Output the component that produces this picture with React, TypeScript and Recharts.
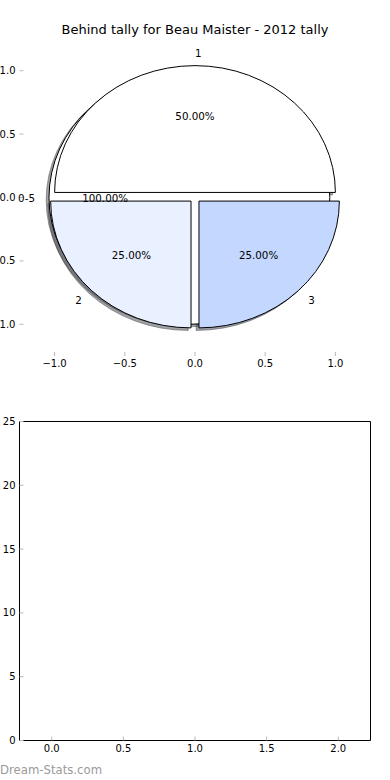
import React from "react";
import { PieChart, Pie, ScatterChart, XAxis, YAxis } from "recharts";

// behind tally pie (3 wedges)
const tallyLabels = ["1", "2", "3"];
const tallyValues = [2, 1, 1];
const tallyExplode = [0.04, 0.04, 0.04];
const tallyColors = ["#ffffff", "#e9f0ff", "#c4d8ff"];

// the single "0-5" wedge drawn underneath
const bracketLabels = ["0-5"];
const bracketValues = [1];
const bracketExplode = [0.04];
const bracketColors = ["#ffffff"];

const pieTicks = [-1, -0.5, 0, 0.5, 1];
const countXTicks = [0, 0.5, 1, 1.5, 2];
const countYTicks = [0, 5, 10, 15, 20, 25];

const FONT = "DejaVu Sans, sans-serif";
const TICK_COLOR = "#b8b8b8";

// top panel layout (pie axes, matplotlib style limits of +-1.25)
const PIE_DOMAIN: [number, number] = [-1.25, 1.25];
const pieBox = { left: 19.5, right: 370.5, top: 39, bottom: 356 };
const unitX = (pieBox.right - pieBox.left) / (PIE_DOMAIN[1] - PIE_DOMAIN[0]);
const unitY = (pieBox.bottom - pieBox.top) / (PIE_DOMAIN[1] - PIE_DOMAIN[0]);
const pieCx = pieBox.left + (0 - PIE_DOMAIN[0]) * unitX;
const pieCy = pieBox.top + (PIE_DOMAIN[1] - 0) * unitY;
const squash = unitY / unitX;
const shadowDx = -0.02 * unitX;
const shadowDy = 0.02 * unitY;

const tallyData = tallyLabels.map((name, i) => ({ name, value: tallyValues[i] }));
const bracketData = bracketLabels.map((name, i) => ({ name, value: bracketValues[i] }));

const RAD = Math.PI / 180;

function wedgeCenter(cx: number, cy: number, r: number, start: number, end: number, explode: number) {
  const mid = ((start + end) / 2) * RAD;
  return {
    x: cx + explode * r * Math.cos(mid),
    y: cy - explode * r * squash * Math.sin(mid),
    mid,
  };
}

function wedgePath(p: any, explode: number, dx = 0, dy = 0) {
  const { cx, cy, outerRadius: r, startAngle, endAngle } = p;
  const c = wedgeCenter(cx, cy, r, startAngle, endAngle, explode);
  const ox = c.x + dx;
  const oy = c.y + dy;
  const ry = r * squash;
  if (Math.abs(endAngle - startAngle) >= 359.99) {
    return `M${ox - r},${oy} A${r},${ry} 0 1 0 ${ox + r},${oy} A${r},${ry} 0 1 0 ${ox - r},${oy} Z`;
  }
  const x1 = ox + r * Math.cos(startAngle * RAD);
  const y1 = oy - ry * Math.sin(startAngle * RAD);
  const x2 = ox + r * Math.cos(endAngle * RAD);
  const y2 = oy - ry * Math.sin(endAngle * RAD);
  const large = endAngle - startAngle > 180 ? 1 : 0;
  return `M${ox},${oy} L${x1},${y1} A${r},${ry} 0 ${large} 0 ${x2},${y2} Z`;
}

function darken(hex: string) {
  const n = parseInt(hex.slice(1), 16);
  const c = [(n >> 16) & 255, (n >> 8) & 255, n & 255].map((v) => Math.round(v * 0.3));
  return `rgb(${c[0]},${c[1]},${c[2]})`;
}

const shadowLabel = (explodes: number[], colors: string[]) => (p: any) => {
  const col = darken(colors[p.index]);
  return (
    <path
      key={`s${p.index}`}
      d={wedgePath(p, explodes[p.index], shadowDx, shadowDy)}
      fill={col}
      stroke={col}
      strokeWidth={1}
      fillOpacity={0.5}
      strokeOpacity={0.5}
    />
  );
};

const wedgeLabel = (explodes: number[], colors: string[]) => (p: any) => (
  <path
    key={`w${p.index}`}
    d={wedgePath(p, explodes[p.index])}
    fill={colors[p.index]}
    stroke="#000"
    strokeWidth={1}
  />
);

const textLabel = (explodes: number[], names: string[]) => (p: any) => {
  const { cx, cy, outerRadius: r, startAngle, endAngle, percent, index } = p;
  const c = wedgeCenter(cx, cy, r, startAngle, endAngle, explodes[index]);
  const ry = r * squash;
  const lx = c.x + 1.1 * r * Math.cos(c.mid);
  const ly = c.y - 1.1 * ry * Math.sin(c.mid);
  const px = c.x + 0.6 * r * Math.cos(c.mid);
  const py = c.y - 0.6 * ry * Math.sin(c.mid);
  const anchor = Math.cos(c.mid) > 0 || Math.abs(Math.cos(c.mid)) < 1e-9 ? "start" : "end";
  return (
    <g key={`t${index}`} fontFamily={FONT} fontSize={10.3} fill="#000">
      <text x={lx} y={ly} textAnchor={anchor} dominantBaseline="central">
        {names[index]}
      </text>
      <text x={px} y={py} textAnchor="middle" dominantBaseline="central">
        {(percent * 100).toFixed(2)}%
      </text>
    </g>
  );
};

const fmt = (v: number) => v.toFixed(1).replace("-", "\u2212");
const tickStyle = { fill: "#000", fontSize: 10, fontFamily: FONT };

const pieCommon = {
  dataKey: "value",
  cx: pieCx,
  cy: pieCy,
  outerRadius: unitX,
  startAngle: 0,
  endAngle: 360,
  fill: "none",
  stroke: "none",
  labelLine: false,
  isAnimationActive: false,
};

export default function App() {
  return (
    <div style={{ position: "absolute", left: 0, top: 0, width: 390, height: 780, background: "#fff" }}>
      {/* top panel axes (frame hidden, only ticks) */}
      <div style={{ position: "absolute", left: 0, top: 0 }}>
        <ScatterChart width={390} height={390} margin={{ top: 38, right: 0, bottom: 4, left: 0 }}>
          <XAxis
            type="number"
            dataKey="x"
            domain={PIE_DOMAIN}
            ticks={pieTicks}
            interval={0}
            allowDataOverflow
            axisLine={false}
            tickLine={{ stroke: TICK_COLOR }}
            tickSize={-4}
            tickMargin={8}
            height={30}
            tick={tickStyle}
            tickFormatter={fmt}
          />
          <XAxis
            xAxisId="top"
            orientation="top"
            type="number"
            dataKey="x"
            domain={PIE_DOMAIN}
            ticks={pieTicks}
            interval={0}
            allowDataOverflow
            axisLine={false}
            tickLine={{ stroke: TICK_COLOR }}
            tickSize={-4}
            height={1}
            tick={false}
          />
          <YAxis
            type="number"
            dataKey="y"
            domain={PIE_DOMAIN}
            ticks={pieTicks}
            interval={0}
            allowDataOverflow
            axisLine={false}
            tickLine={{ stroke: TICK_COLOR }}
            tickSize={-4}
            tickMargin={8}
            width={19.5}
            tick={tickStyle}
            tickFormatter={fmt}
          />
          <YAxis
            yAxisId="right"
            orientation="right"
            type="number"
            dataKey="y"
            domain={PIE_DOMAIN}
            ticks={pieTicks}
            interval={0}
            allowDataOverflow
            axisLine={false}
            tickLine={{ stroke: TICK_COLOR }}
            tickSize={-4}
            width={19.5}
            tick={false}
          />
        </ScatterChart>
      </div>

      {/* top panel pies, drawn as squashed wedges to follow the unequal axis scales */}
      <div style={{ position: "absolute", left: 0, top: 0 }}>
        <PieChart width={390} height={390} margin={{ top: 0, right: 0, bottom: 0, left: 0 }}>
          <Pie {...pieCommon} data={bracketData} label={shadowLabel(bracketExplode, bracketColors)} />
          <Pie {...pieCommon} data={tallyData} label={shadowLabel(tallyExplode, tallyColors)} />
          <Pie {...pieCommon} data={bracketData} label={wedgeLabel(bracketExplode, bracketColors)} />
          <Pie {...pieCommon} data={tallyData} label={wedgeLabel(tallyExplode, tallyColors)} />
          <Pie {...pieCommon} data={bracketData} label={textLabel(bracketExplode, bracketLabels)} />
          <Pie {...pieCommon} data={tallyData} label={textLabel(tallyExplode, tallyLabels)} />
        </PieChart>
      </div>

      <div
        style={{
          position: "absolute",
          left: 0,
          top: 22,
          width: 390,
          textAlign: "center",
          fontFamily: FONT,
          fontSize: 13,
          lineHeight: "16px",
          color: "#000",
        }}
      >
        Behind tally for Beau Maister - 2012 tally
      </div>

      {/* bottom panel: empty axes */}
      <div style={{ position: "absolute", left: 0, top: 390 }}>
        <ScatterChart width={390} height={390} margin={{ top: 30.5, right: 0, bottom: 9.5, left: 0 }}>
          <XAxis
            type="number"
            dataKey="x"
            domain={[-0.225, 2.225]}
            ticks={countXTicks}
            interval={0}
            allowDataOverflow
            axisLine={{ stroke: "#000" }}
            tickLine={{ stroke: TICK_COLOR }}
            tickSize={-4}
            tickMargin={8}
            height={30}
            tick={tickStyle}
            tickFormatter={fmt}
          />
          <XAxis
            xAxisId="top"
            orientation="top"
            type="number"
            dataKey="x"
            domain={[-0.225, 2.225]}
            ticks={countXTicks}
            interval={0}
            allowDataOverflow
            axisLine={{ stroke: "#000" }}
            tickLine={{ stroke: TICK_COLOR }}
            tickSize={-4}
            height={1}
            tick={false}
          />
          <YAxis
            type="number"
            dataKey="y"
            domain={[0, 25]}
            ticks={countYTicks}
            interval={0}
            allowDataOverflow
            axisLine={{ stroke: "#000" }}
            tickLine={{ stroke: TICK_COLOR }}
            tickSize={-4}
            tickMargin={8}
            width={19.5}
            tick={tickStyle}
          />
          <YAxis
            yAxisId="right"
            orientation="right"
            type="number"
            dataKey="y"
            domain={[0, 25]}
            ticks={countYTicks}
            interval={0}
            allowDataOverflow
            axisLine={{ stroke: "#000" }}
            tickLine={{ stroke: TICK_COLOR }}
            tickSize={-4}
            width={19.5}
            tick={false}
          />
        </ScatterChart>
      </div>

      <div
        style={{
          position: "absolute",
          left: 0,
          top: 763,
          fontFamily: FONT,
          fontSize: 11.7,
          lineHeight: "14px",
          color: "#9a9a9a",
        }}
      >
        Dream-Stats.com
      </div>
    </div>
  );
}
